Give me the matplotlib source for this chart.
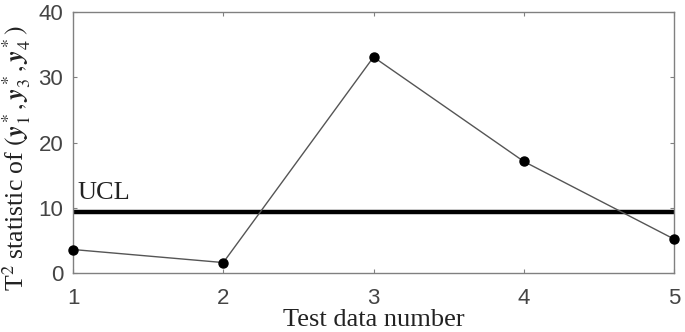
import matplotlib.pyplot as plt

# data
test_no = [1, 2, 3, 4, 5]
t2_vals = [3.6, 1.6, 33.1, 17.1, 5.2]
ucl = 9.3
xticks = [1, 2, 3, 4, 5]
yticks = [0, 10, 20, 30, 40]

plt.rcParams['mathtext.fontset'] = 'stix'
serif = ['Liberation Serif', 'DejaVu Serif']

fig = plt.figure(figsize=(6.85, 3.32), dpi=100)
ax = fig.add_axes([0.1066, 0.1777, 0.8774, 0.7861])

ax.plot(test_no, t2_vals, color='#555555', lw=1.0, marker='o',
        markersize=6.5, markerfacecolor='black', markeredgecolor='black',
        clip_on=False, zorder=3)
ax.axhline(ucl, color='black', lw=3.2, zorder=2)
ax.text(1.03, ucl + 1.3, 'UCL', family=serif, fontsize=19, va='bottom',
        color='#222222')

ax.set_xlim(1, 5)
ax.set_ylim(0, 40)
ax.set_xticks(xticks)
ax.set_yticks(yticks)
ax.tick_params(direction='in', top=True, right=True, length=3, width=0.8,
               colors='#808080', labelcolor='#444444', labelsize=16)
ax.tick_params(axis='x', pad=11)
ax.tick_params(axis='y', pad=7)
for lab in ax.get_xticklabels() + ax.get_yticklabels():
    lab.set_family(['Liberation Sans', 'DejaVu Sans'])
for s in ax.spines.values():
    s.set_color('#808080')
    s.set_linewidth(1.0)

ax.set_xlabel('Test data number', family=serif, fontsize=19, labelpad=0,
              color='#222222')
ax.set_ylabel(r'T$^2$ statistic of $(\mathbfit{y}_1^*, \mathbfit{y}_3^*, \mathbfit{y}_4^*)$',
              family=serif, fontsize=18.5, color='#222222')
ax.yaxis.set_label_coords(-0.066, 0.44)

fig.savefig('out.png', dpi=100)
